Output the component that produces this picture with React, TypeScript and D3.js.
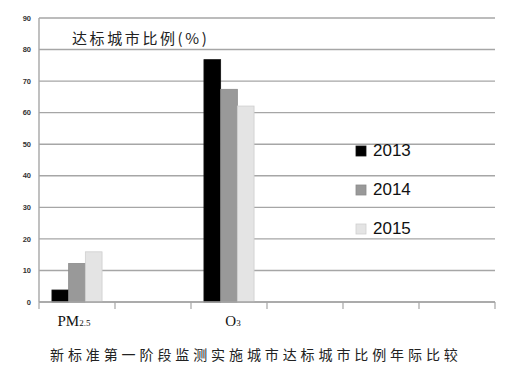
import React from "react";
import * as d3 from "d3";

const categories = ["PM2.5", "c2", "O3", "c4", "c5", "c6"];
const years = ["2013", "2014", "2015"];
const values2013 = [3.8, null, 76.8];
const values2014 = [12.2, null, 67.4];
const values2015 = [15.9, null, 62.1];
const yTicks = [0, 10, 20, 30, 40, 50, 60, 70, 80, 90];
const title = "达标城市比例(%)";
const caption = "新标准第一阶段监测实施城市达标城市比例年际比较";

const colors = ["#000000", "#999999", "#e4e4e4"];
const strokes = ["#111111", "#8a8a8a", "#cfcfcf"];

export default function App() {
  const W = 521, H = 373;
  const x = d3.scaleBand<string>().domain(categories).range([39, 495]).paddingInner(0).paddingOuter(0);
  const sub = d3.scaleBand<string>().domain(years).range([0, x.step()]).paddingInner(0).paddingOuter(0.775);
  const y = d3.scaleLinear().domain([0, 90]).range([302, 18]);
  const series = [values2013, values2014, values2015];
  const gridColor = "#a6a6a6";

  const boundaries = categories.map((c) => x(c)!).concat([x.range()[1]]);

  return (
    <svg width={W} height={H} style={{ position: "absolute", left: 0, top: 0, background: "#fff" }}>
      {/* gridlines */}
      {yTicks.map((t) => (
        <line key={t} x1={39} x2={495} y1={y(t)} y2={y(t)} stroke={gridColor} strokeWidth={1.4} />
      ))}
      {yTicks.map((t) => (
        <text key={"l" + t} x={31} y={y(t)} dy="0.35em" textAnchor="end"
          fontFamily="Liberation Sans, Arial, sans-serif" fontSize={7.5} fontWeight="bold" fill="#333">
          {t}
        </text>
      ))}
      {/* y axis */}
      <line x1={39} x2={39} y1={y(90)} y2={y(0)} stroke={gridColor} strokeWidth={1.4} />
      {/* bars */}
      {series.map((vals, si) =>
        vals.map((v, ci) =>
          v == null ? null : (
            <rect key={si + "-" + ci}
              x={x(categories[ci])! + sub(years[si])!}
              y={y(v)}
              width={sub.bandwidth()}
              height={y(0) - y(v)}
              fill={colors[si]} stroke={strokes[si]} strokeWidth={0.8} />
          )
        )
      )}
      {/* x axis */}
      <line x1={39} x2={495} y1={y(0)} y2={y(0)} stroke={gridColor} strokeWidth={1.4} />
      {boundaries.map((b, i) => (
        <line key={"t" + i} x1={b} x2={b} y1={y(0)} y2={y(0) + 7} stroke={gridColor} strokeWidth={1.2} />
      ))}
      {/* category labels */}
      <text x={x("PM2.5")! + x.step() / 2 - 3} y={326} textAnchor="middle"
        fontFamily="Liberation Serif, Times New Roman, serif" fontSize={15} fill="#111">
        PM<tspan fontSize={9}>2.5</tspan>
      </text>
      <text x={x("O3")! + x.step() / 2 + 4} y={326} textAnchor="middle"
        fontFamily="Liberation Serif, Times New Roman, serif" fontSize={15} fill="#111">
        O<tspan fontSize={9}>3</tspan>
      </text>
      {/* title */}
      <text x={72} y={44} fontFamily="Noto Sans CJK SC, sans-serif" fontSize={15} letterSpacing={2.6} fill="#222">
        {title}
      </text>
      {/* legend */}
      {years.map((yr, i) => (
        <g key={yr} transform={`translate(356, ${146 + i * 39})`}>
          <rect x={0} y={0} width={10} height={10} fill={colors[i]} stroke={strokes[i]} strokeWidth={0.8} />
          <text x={17} y={10} fontFamily="Liberation Sans, Arial, sans-serif" fontSize={17} fill="#111">
            {yr}
          </text>
        </g>
      ))}
      {/* caption */}
      <text x={50} y={360} fontFamily="Noto Sans CJK SC, sans-serif" fontSize={14} letterSpacing={3.9} fill="#222">
        {caption}
      </text>
    </svg>
  );
}
